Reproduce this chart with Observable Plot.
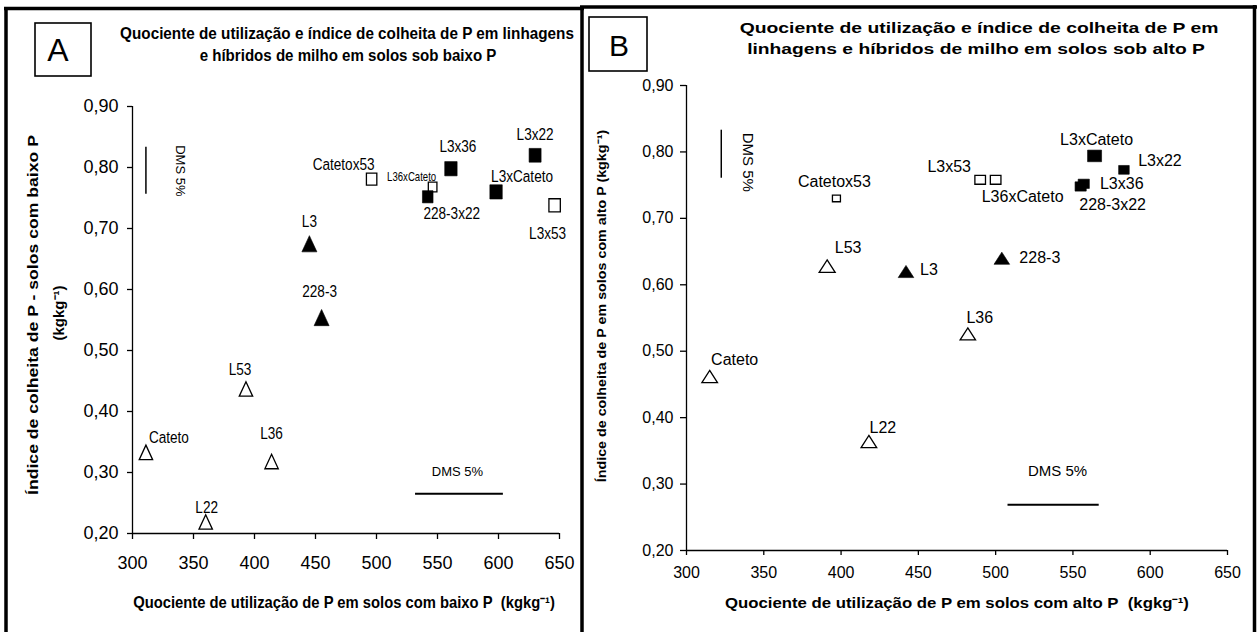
<!DOCTYPE html>
<html><head><meta charset="utf-8">
<script src="https://cdn.jsdelivr.net/npm/d3@7"></script>
<script src="https://cdn.jsdelivr.net/npm/@observablehq/plot@0.6"></script>
<style>
html,body{margin:0;padding:0;background:#fff;}
#wrap{position:relative;width:1258px;height:632px;overflow:hidden;background:#fff;}
#panelA{position:absolute;left:0;top:0;}
#panelB{position:absolute;left:582px;top:0;}
#overlay{position:absolute;left:0;top:0;pointer-events:none;}
</style></head><body>
<div id="wrap"><div id="panelA"></div><div id="panelB"></div><svg id="overlay" width="1258" height="632"></svg></div>
<script>
// ---------- DATA ----------
const genotypes = ["Cateto","L22","L36","L53","L3","228-3","Catetox53","L36xCateto","228-3x22","L3x36","L3xCateto","L3x22","L3x53"];
const groups = ["open-tri","open-tri","open-tri","open-tri","filled-tri","filled-tri","open-sq","open-sq","filled-sq","filled-sq","filled-sq","filled-sq","open-sq"];
// Panel A: solos sob baixo P
const quocienteBaixoP = [311, 360, 414, 393, 445, 455, 496, 546, 542, 561, 598, 630, 646];
const indiceBaixoP = [0.333, 0.219, 0.318, 0.437, 0.675, 0.554, 0.781, 0.768, 0.752, 0.798, 0.760, 0.820, 0.738];
// Panel B: solos sob alto P
const quocienteAltoP = [315, 418, 482, 391, 442, 504, 397, 500, 555, 557, 564, 583, 490];
const indiceAltoP = [0.462, 0.364, 0.526, 0.628, 0.620, 0.640, 0.730, 0.758, 0.748, 0.752, 0.794, 0.773, 0.758];
// DMS 5% bars (x extent / y level, y extent / x level)
const dmsBaixoPX = [532, 604], dmsBaixoPXAt = 0.265;
const dmsBaixoPY = [0.756, 0.833], dmsBaixoPYAt = 311;
const dmsAltoPX = [508, 567], dmsAltoPXAt = 0.2687;
const dmsAltoPY = [0.7604, 0.8327], dmsAltoPYAt = 322.5;
const xTicks = [300, 350, 400, 450, 500, 550, 600, 650];
const yTicks = [0.2, 0.3, 0.4, 0.5, 0.6, 0.7, 0.8, 0.9];

// ---------- STYLE ----------
const sans = '"Liberation Sans",Arial,sans-serif';
const fmtY = d => d.toFixed(2).replace(".", ",");
function triangle(aspect){return {draw(ctx,size){const r=Math.sqrt(size/Math.PI),h=r*aspect;ctx.moveTo(0,-h);ctx.lineTo(r,h);ctx.lineTo(-r,h);ctx.closePath();}};}
function square(aspect){return {draw(ctx,size){const r=Math.sqrt(size/Math.PI),h=r*aspect;ctx.moveTo(-r,-h);ctx.lineTo(r,-h);ctx.lineTo(r,h);ctx.lineTo(-r,h);ctx.closePath();}};}

const styleA = {
  width: 582, height: 632, mt: 106, mr: 23, mb: 99, ml: 132,
  xTickSize: 6, xTickPad: 17, yTickSize: 5, yTickPad: 9, tickFont: 18,
  labelFont: 17, labelSize: {"L36xCateto": 12}, labelSqueeze: 0.8,
  dmsFont: 13,
  tri: triangle(1.08), sq: square(1.15),
  r: {"Cateto":6.7,"L22":6.7,"L36":6.7,"L53":6.7,"L3":7.5,"228-3":7.5,"Catetox53":5.2,"L36xCateto":4.3,"228-3x22":5.3,"L3x36":6.2,"L3xCateto":6.2,"L3x22":6,"L3x53":5.7},
  off: {"Cateto":[23,-15],"L22":[1,-14],"L36":[0,-28],"L53":[-6,-19],"L3":[0,-22],"228-3":[-2,-26],"Catetox53":[-28,-15],"L36xCateto":[-21,-10],"228-3x22":[24,17],"L3x36":[7,-22],"L3xCateto":[26,-15],"L3x22":[0,-21],"L3x53":[-7,28]},
  dmsHOff: [-2,-22], dmsVOff: [34,0]
};
const styleB = {
  width: 676, height: 632, mt: 85, mr: 31, mb: 82, ml: 104,
  xTickSize: 5, xTickPad: 11, yTickSize: 6, yTickPad: 7, tickFont: 16,
  labelFont: 16, labelSize: {}, labelSqueeze: 1,
  dmsFont: 15,
  tri: triangle(0.78), sq: square(0.83),
  r: {"Cateto":7.8,"L22":7.8,"L36":7.7,"L53":8,"L3":7.8,"228-3":7.8,"Catetox53":4,"L36xCateto":5.3,"228-3x22":5.6,"L3x36":5.6,"L3xCateto":7,"L3x22":5.3,"L3x53":5.3},
  off: {"Cateto":[25,-17],"L22":[14,-14],"L36":[12,-16],"L53":[21,-18],"L3":[23,-2],"228-3":[38,0],"Catetox53":[-2,-17],"L36xCateto":[27,17],"228-3x22":[32,18],"L3x36":[38,0],"L3xCateto":[2,-16],"L3x22":[36,-9],"L3x53":[-31,-13]},
  dmsHOff: [4,-34], dmsVOff: [27,8]
};

function buildPanel(xs, ys, dH, dHAt, dV, dVAt, s) {
  const rows = genotypes.map((g, i) => ({genotype: g, group: groups[i], x: xs[i], y: ys[i]}));
  const marks = [
    Plot.ruleY([yTicks[0]], {stroke: "#000", strokeWidth: 1.3}),
    Plot.ruleX([xTicks[0]], {stroke: "#000", strokeWidth: 1.3}),
    Plot.axisX({ticks: xTicks, tickFormat: d => String(d), tickSize: s.xTickSize, tickPadding: s.xTickPad, fontSize: s.tickFont, fontFamily: sans, label: null, strokeWidth: 1.3}),
    Plot.axisY({ticks: yTicks, tickFormat: fmtY, tickSize: s.yTickSize, tickPadding: s.yTickPad, fontSize: s.tickFont, fontFamily: sans, label: null, strokeWidth: 1.3}),
    Plot.ruleY([{y: dHAt, x1: dH[0], x2: dH[1]}], {y: "y", x1: "x1", x2: "x2", stroke: "#000", strokeWidth: 2}),
    Plot.ruleX([{x: dVAt, y1: dV[0], y2: dV[1]}], {x: "x", y1: "y1", y2: "y2", stroke: "#000", strokeWidth: 1.5}),
    Plot.text([{x: (dH[0] + dH[1]) / 2, y: dHAt, t: "DMS 5%"}], {x: "x", y: "y", text: "t", dx: s.dmsHOff[0], dy: s.dmsHOff[1], fontSize: s.dmsFont, fontFamily: sans, fill: "#000"}),
    Plot.text([{x: dVAt, y: (dV[0] + dV[1]) / 2, t: "DMS 5%"}], {x: "x", y: "y", text: "t", rotate: 90, dx: s.dmsVOff[0], dy: s.dmsVOff[1], fontSize: s.dmsFont, fontFamily: sans, fill: "#000"})
  ];
  for (const grp of ["open-tri", "filled-tri", "open-sq", "filled-sq"]) {
    const open = grp.startsWith("open");
    marks.push(Plot.dot(rows.filter(d => d.group === grp), {
      x: "x", y: "y", r: d => s.r[d.genotype],
      symbol: grp.endsWith("tri") ? s.tri : s.sq,
      fill: open ? "#fff" : "#000", stroke: "#000", strokeWidth: open ? 1.3 : 0.6
    }));
  }
  rows.forEach(row => {
    const [dx, dy] = s.off[row.genotype];
    marks.push(Plot.text([row], {x: "x", y: "y", text: "genotype", dx, dy,
      fontSize: s.labelSize[row.genotype] ?? s.labelFont, fontFamily: sans, fill: "#000"}));
  });
  return Plot.plot({
    width: s.width, height: s.height,
    marginTop: s.mt, marginRight: s.mr, marginBottom: s.mb, marginLeft: s.ml,
    x: {domain: [300, 650], label: null},
    y: {domain: [0.2, 0.9], label: null},
    r: {type: "identity"},
    style: {background: "transparent", color: "#000", overflow: "visible"},
    marks
  });
}

// horizontally condense point labels (narrow typeface look) around their anchor
function squeezeLabels(svg, sx) {
  if (sx === 1) return;
  svg.querySelectorAll("text").forEach(t => {
    if (!genotypes.includes(t.textContent)) return;
    const tr = t.getAttribute("transform") || "";
    const x = +t.getAttribute("x") || 0, y = +t.getAttribute("y") || 0;
    t.setAttribute("transform", `${tr} translate(${x},${y}) scale(${sx},1) translate(${-x},${-y})`);
  });
}

const svgA = buildPanel(quocienteBaixoP, indiceBaixoP, dmsBaixoPX, dmsBaixoPXAt, dmsBaixoPY, dmsBaixoPYAt, styleA);
const svgB = buildPanel(quocienteAltoP, indiceAltoP, dmsAltoPX, dmsAltoPXAt, dmsAltoPY, dmsAltoPYAt, styleB);
document.getElementById("panelA").appendChild(svgA);
document.getElementById("panelB").appendChild(svgB);
squeezeLabels(svgA, styleA.labelSqueeze);

// ---------- OVERLAY: frames, boxes, titles, axis titles ----------
const ov = d3.select("#overlay");
[[6,7,6,632],[4,8.5,584,8.5],[582,7,582,632],[580,7,1257,7],[1254.5,5,1254.5,632]].forEach(([x1,y1,x2,y2]) =>
  ov.append("line").attr("x1",x1).attr("y1",y1).attr("x2",x2).attr("y2",y2).attr("stroke","#000").attr("stroke-width",3.5));
ov.append("rect").attr("x",35).attr("y",23).attr("width",56).attr("height",53).attr("fill","none").attr("stroke","#000").attr("stroke-width",1.6);
ov.append("rect").attr("x",589).attr("y",17).attr("width",58).attr("height",54).attr("fill","none").attr("stroke","#000").attr("stroke-width",1.6);

function txt(x, y, str, o) {
  const t = ov.append("text").attr("x", 0).attr("y", 0)
    .attr("text-anchor", "middle").attr("dominant-baseline", "central")
    .attr("font-family", sans).attr("font-size", o.size).attr("font-weight", o.weight || "normal")
    .attr("fill", "#000").text(str);
  let sx = 1;
  if (o.len) sx = o.len / t.node().getComputedTextLength();
  t.attr("transform", `translate(${x},${y})${o.rotate ? ` rotate(${o.rotate})` : ""} scale(${sx},1)`);
  return t;
}

txt(58, 50, "A", {size: 32});
txt(619, 45, "B", {size: 30});
txt(347, 33, "Quociente de utilização e índice de colheita de P em linhagens", {size: 17, weight: "bold", len: 454});
txt(348, 55, "e híbridos de milho em solos sob baixo P", {size: 17, weight: "bold", len: 297});
txt(979, 28, "Quociente de utilização e índice de colheita de P em", {size: 15.5, weight: "bold", len: 479});
txt(976, 49, "linhagens e híbridos de milho em solos sob alto P", {size: 15.5, weight: "bold", len: 458});
txt(344, 602, "Quociente de utilização de P em solos com baixo P\u00A0\u00A0(kgkg⁻¹)", {size: 16, weight: "bold", len: 422});
txt(957, 603, "Quociente de utilização de P em solos com alto P\u00A0\u00A0(kgkg⁻¹)", {size: 14.5, weight: "bold", len: 465});
txt(32, 315, "Índice de colheita de P - solos com baixo P", {size: 15, weight: "bold", len: 360, rotate: -90});
txt(58, 313, "(kgkg⁻¹)", {size: 15, weight: "bold", rotate: -90});
txt(602, 306, "Índice de colheita de P em solos com alto P (kgkg⁻¹)", {size: 13, weight: "bold", len: 352, rotate: -90});
</script>
</body></html>
